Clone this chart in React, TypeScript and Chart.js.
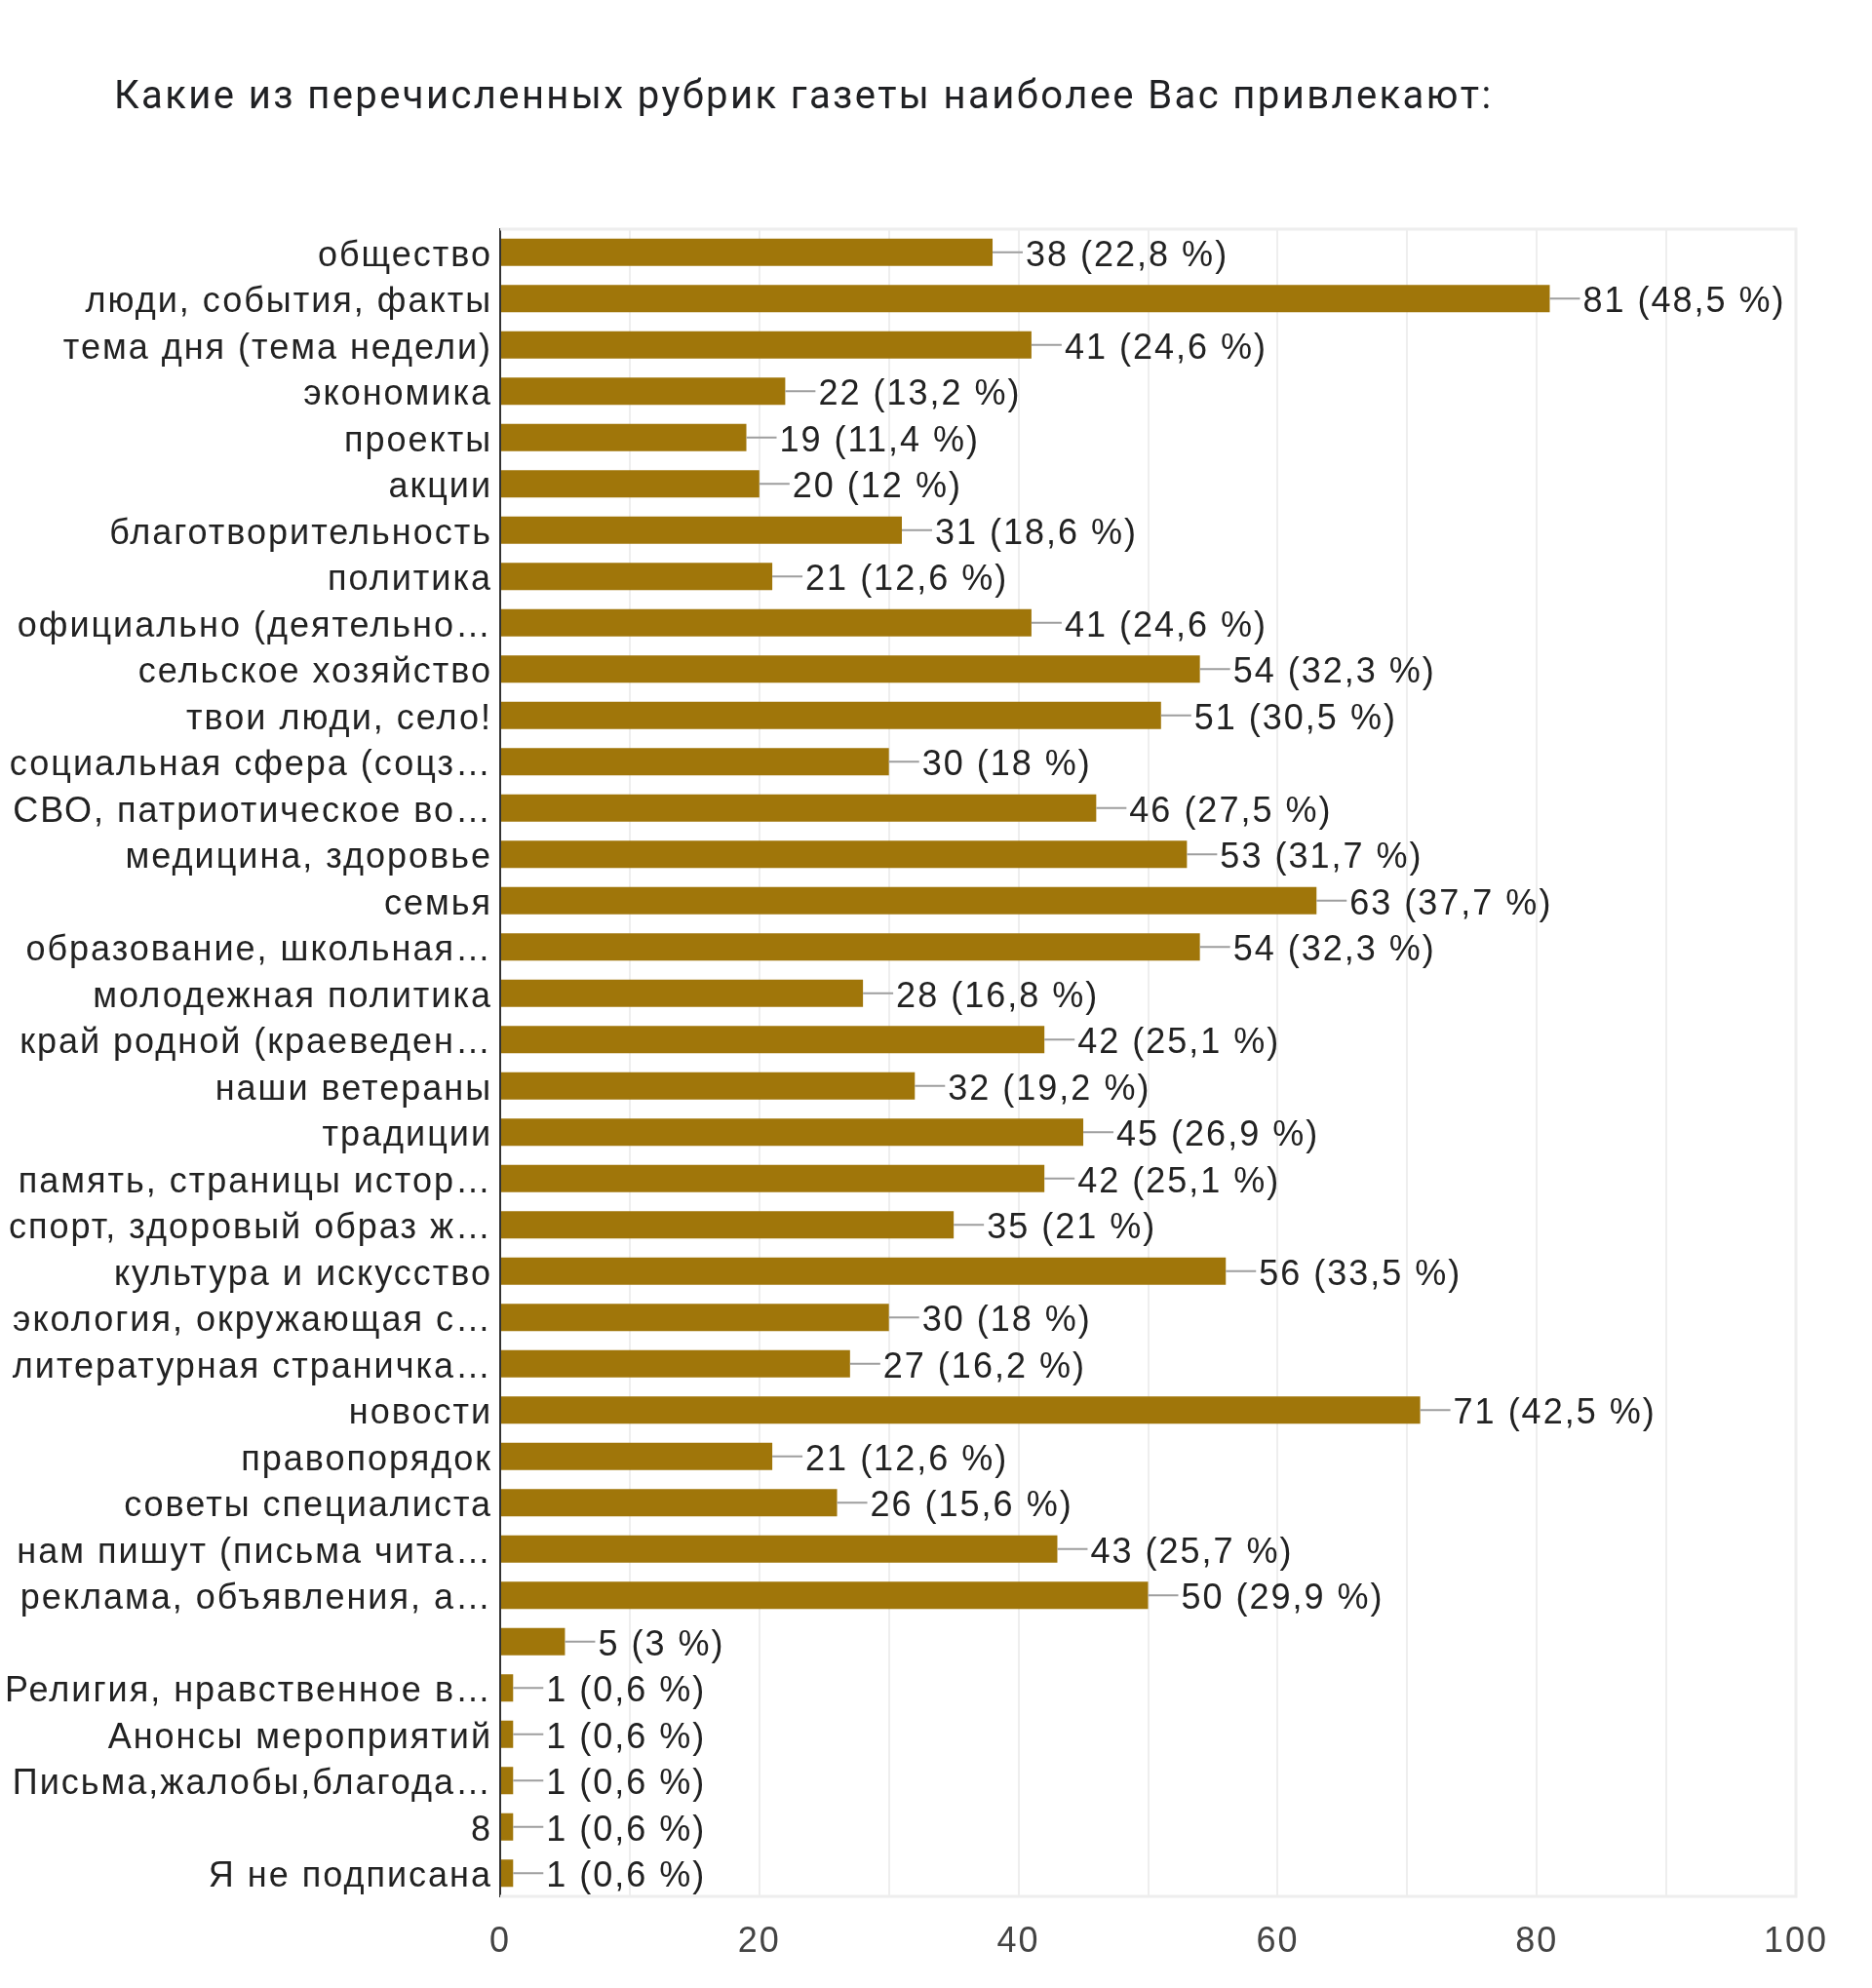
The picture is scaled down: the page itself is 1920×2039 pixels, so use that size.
import React, { useEffect, useRef } from "react";
import { Chart, registerables } from "chart.js";

Chart.register(...registerables);

const TITLE = "Какие из перечисленных рубрик газеты наиболее Вас привлекают:";

const categories: string[] = [
  "общество",
  "люди, события, факты",
  "тема дня (тема недели)",
  "экономика",
  "проекты",
  "акции",
  "благотворительность",
  "политика",
  "официально (деятельно…",
  "сельское хозяйство",
  "твои люди, село!",
  "социальная сфера (соцз…",
  "СВО, патриотическое во…",
  "медицина, здоровье",
  "семья",
  "образование, школьная…",
  "молодежная политика",
  "край родной (краеведен…",
  "наши ветераны",
  "традиции",
  "память, страницы истор…",
  "спорт, здоровый образ ж…",
  "культура и искусство",
  "экология, окружающая с…",
  "литературная страничка…",
  "новости",
  "правопорядок",
  "советы специалиста",
  "нам пишут (письма чита…",
  "реклама, объявления, а…",
  "",
  "Религия, нравственное в…",
  "Анонсы мероприятий",
  "Письма,жалобы,благода…",
  "8",
  "Я не подписана",
];

const counts: number[] = [
  38, 81, 41, 22, 19, 20, 31, 21, 41, 54, 51, 30, 46, 53, 63, 54, 28, 42, 32, 45,
  42, 35, 56, 30, 27, 71, 21, 26, 43, 50, 5, 1, 1, 1, 1, 1,
];

const percents: string[] = [
  "22,8", "48,5", "24,6", "13,2", "11,4", "12", "18,6", "12,6", "24,6", "32,3",
  "30,5", "18", "27,5", "31,7", "37,7", "32,3", "16,8", "25,1", "19,2", "26,9",
  "25,1", "21", "33,5", "18", "16,2", "42,5", "12,6", "15,6", "25,7", "29,9",
  "3", "0,6", "0,6", "0,6", "0,6", "0,6",
];

const xTickLabels: number[] = [0, 20, 40, 60, 80, 100];

const FONT = "'Liberation Sans', Arial, sans-serif";

export default function App() {
  const ref = useRef<HTMLCanvasElement | null>(null);

  useEffect(() => {
    document.body.style.margin = "0";
    const canvas = ref.current;
    if (!canvas) return;

    const spacingPlugin = {
      id: "spacing",
      beforeLayout(chart: any) {
        chart.ctx.letterSpacing = "2px";
      },
      beforeDraw(chart: any) {
        chart.ctx.letterSpacing = "2px";
      },
    };

    const titlePlugin = {
      id: "customTitle",
      afterDraw(chart: any) {
        const ctx = chart.ctx;
        ctx.save();
        ctx.letterSpacing = "2.4px";
        ctx.font = "40px Roboto, 'Liberation Sans', sans-serif";
        ctx.fillStyle = "#202124";
        ctx.textBaseline = "alphabetic";
        ctx.textAlign = "left";
        ctx.fillText(TITLE, 117, 111);
        ctx.restore();
      },
    };

    const framePlugin = {
      id: "frame",
      beforeDatasetsDraw(chart: any) {
        const { ctx, chartArea } = chart;
        ctx.save();
        ctx.strokeStyle = "#eeeeee";
        ctx.lineWidth = 3;
        ctx.beginPath();
        ctx.moveTo(chartArea.left, chartArea.top);
        ctx.lineTo(chartArea.right, chartArea.top);
        ctx.lineTo(chartArea.right, chartArea.bottom);
        ctx.lineTo(chartArea.left, chartArea.bottom);
        ctx.stroke();
        ctx.restore();
      },
    };

    const labelPlugin = {
      id: "barLabels",
      afterDatasetsDraw(chart: any) {
        const ctx = chart.ctx;
        const meta = chart.getDatasetMeta(0);
        ctx.save();
        ctx.letterSpacing = "2px";
        ctx.font = `36px ${FONT}`;
        ctx.textBaseline = "middle";
        ctx.textAlign = "left";
        meta.data.forEach((bar: any, i: number) => {
          const x = bar.x;
          const y = bar.y;
          ctx.strokeStyle = "#9e9e9e";
          ctx.lineWidth = 2;
          ctx.beginPath();
          ctx.moveTo(x, y);
          ctx.lineTo(x + 31, y);
          ctx.stroke();
          ctx.fillStyle = "#222222";
          ctx.fillText(`${counts[i]} (${percents[i]} %)`, x + 34, y + 4);
        });
        ctx.restore();
      },
    };

    const chart = new Chart(canvas, {
      type: "bar",
      data: {
        labels: categories,
        datasets: [
          {
            data: counts,
            backgroundColor: "#a0760a",
            borderWidth: 0,
            categoryPercentage: 1,
            barPercentage: 0.59,
          },
        ],
      },
      options: {
        indexAxis: "y",
        responsive: false,
        animation: false,
        devicePixelRatio: 1,
        layout: { padding: { top: 235, left: 0, right: 78, bottom: 0 } },
        plugins: {
          legend: { display: false },
          title: { display: false },
          tooltip: { enabled: false },
        },
        scales: {
          x: {
            type: "linear",
            min: 0,
            max: 100,
            grid: { color: "#eeeeee", lineWidth: 2, drawTicks: false },
            border: { display: false },
            ticks: {
              stepSize: 10,
              padding: 25,
              color: "#444444",
              font: { family: FONT, size: 36 },
              callback: (v: any) => (xTickLabels.includes(Number(v)) ? String(v) : ""),
              maxRotation: 0,
            },
            afterFit: (scale: any) => {
              scale.height = 94;
            },
          },
          y: {
            type: "category",
            offset: true,
            grid: { display: false, drawTicks: false },
            border: { display: true, color: "#333333", width: 2 },
            ticks: {
              autoSkip: false,
              padding: 8,
              labelOffset: 4,
              color: "#222222",
              font: { family: FONT, size: 36 },
            },
            afterFit: (scale: any) => {
              scale.width = 513;
            },
          },
        },
      },
      plugins: [spacingPlugin, framePlugin, labelPlugin, titlePlugin],
    });

    return () => chart.destroy();
  }, []);

  return (
    <div style={{ width: 1920, height: 2039, background: "#ffffff" }}>
      <canvas ref={ref} width={1920} height={2039} style={{ display: "block" }} />
    </div>
  );
}
